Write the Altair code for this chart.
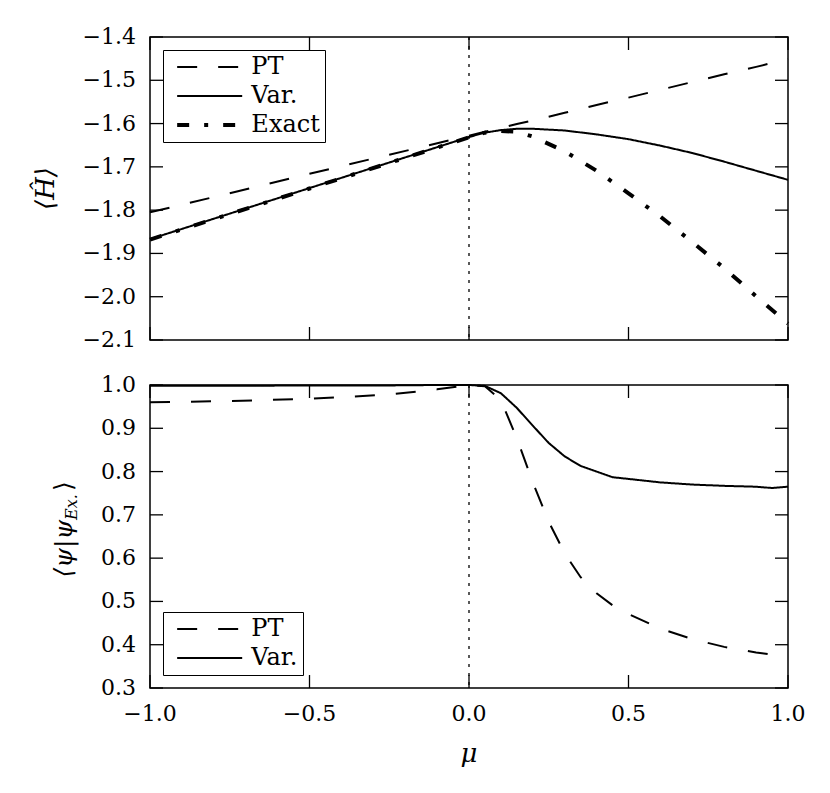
import altair as alt
import pandas as pd

# ---------------- data ----------------
x_top = [-1.0, -0.75, -0.5, -0.25, 0.0, 0.05, 0.1, 0.15, 0.2, 0.3, 0.4, 0.5, 0.6, 0.7, 0.8, 0.9, 1.0]
pt_top = [-1.805, -1.761, -1.716, -1.672, -1.628, -1.619, -1.610, -1.601, -1.593, -1.575, -1.557,
          -1.540, -1.522, -1.504, -1.486, -1.469, -1.451]
var_top = [-1.867, -1.808, -1.749, -1.690, -1.631, -1.621, -1.615, -1.612, -1.612, -1.616, -1.625,
           -1.636, -1.651, -1.668, -1.688, -1.709, -1.730]
exact_top = [-1.868, -1.809, -1.750, -1.691, -1.632, -1.621, -1.617, -1.619, -1.630, -1.664, -1.709,
             -1.761, -1.815, -1.874, -1.934, -1.999, -2.062]

x_bot = [-1.0, -0.75, -0.5, -0.25, -0.1, 0.0, 0.05, 0.1, 0.15, 0.2, 0.25, 0.3, 0.35, 0.4, 0.45,
         0.5, 0.6, 0.7, 0.8, 0.9, 0.95, 1.0]
pt_bot = [0.960, 0.963, 0.968, 0.978, 0.990, 1.000, 0.997, 0.965, 0.877, 0.775, 0.684, 0.611,
          0.556, 0.519, 0.491, 0.471, 0.437, 0.413, 0.395, 0.382, 0.377, 0.372]
var_bot = [0.998, 0.998, 0.999, 0.999, 1.000, 1.000, 0.998, 0.981, 0.947, 0.906, 0.866, 0.835,
           0.813, 0.800, 0.787, 0.783, 0.775, 0.770, 0.767, 0.765, 0.762, 0.765]

series_top = ["PT", "Var.", "Exact"]
series_bot = ["PT", "Var."]

x_ticks = [-1.0, -0.5, 0.0, 0.5, 1.0]
x_labels = ["−1.0", "−0.5", "0.0", "0.5", "1.0"]
y_ticks_top = [-2.1, -2.0, -1.9, -1.8, -1.7, -1.6, -1.5, -1.4]
y_labels_top = ["−2.1", "−2.0", "−1.9", "−1.8", "−1.7", "−1.6", "−1.5", "−1.4"]
y_ticks_bot = [0.3, 0.4, 0.5, 0.6, 0.7, 0.8, 0.9, 1.0]
y_labels_bot = ["0.3", "0.4", "0.5", "0.6", "0.7", "0.8", "0.9", "1.0"]
marker_x = [0.0]

x_title = ["μ"]
y_title_top = ["⟨Ĥ⟩"]
y_title_bot_parts = ["⟨ψ|ψ", "Ex.", "⟩"]

# ---------------- styling ----------------
W, H = 638, 303
TL = 13
FONT = "DejaVu Serif"
FS = 22
DASHES = {"PT": [20, 21], "Var.": [1, 0], "Exact": [12, 15, 4, 15]}
WIDTHS = {"PT": 2, "Var.": 2, "Exact": 4}
SYM = 470  # legend symbol size; custom path spans 3*sqrt(SYM)
XDOM = [-1.0, 1.0]


def long_df(xs, cols):
    rows = []
    for name, vals in cols:
        for xv, yv in zip(xs, vals):
            rows.append({"x": xv, "y": yv, "series": name, "w": WIDTHS[name]})
    return pd.DataFrame(rows)


df_top = long_df(x_top, [("PT", pt_top), ("Var.", var_top), ("Exact", exact_top)])
df_bot = long_df(x_bot, [("PT", pt_bot), ("Var.", var_bot)])


def text_layer(txt, **kw):
    enc = kw.pop("enc")
    return alt.Chart(pd.DataFrame({"t": txt})).mark_text(
        font=FONT, color="black", **kw).encode(text="t:N", **enc)


def panel(df, order, ydomain, yticks, ylabels, legend_orient, bottom):
    xs = alt.Scale(domain=XDOM, nice=False, zero=False)
    ys = alt.Scale(domain=ydomain, nice=False, zero=False)
    # tick length (TL px) expressed in data units of each scale
    dx = (XDOM[1] - XDOM[0]) * TL / W
    dy = (ydomain[1] - ydomain[0]) * TL / H
    leg = alt.Legend(orient=legend_orient, title=None,
                     symbolStrokeWidth=alt.ExprRef("datum.value == 'Exact' ? 4 : 2"))
    lines = alt.Chart(df).mark_line(strokeCap="butt").encode(
        x=alt.X("x:Q", scale=xs, axis=None),
        y=alt.Y("y:Q", scale=ys, axis=None),
        strokeDash=alt.StrokeDash("series:N", sort=order,
                                  scale=alt.Scale(domain=order, range=[DASHES[s] for s in order]),
                                  legend=leg),
        strokeWidth=alt.StrokeWidth("w:Q", scale=None),
        color=alt.value("black"),
    )
    vline = alt.Chart(pd.DataFrame({"v": marker_x})).mark_rule(
        color="black", strokeWidth=1.3, strokeDash=[3, 6]).encode(
        x=alt.X("v:Q", scale=xs, axis=None))
    tick_style = dict(color="black", strokeWidth=1.3)
    lt_df = pd.DataFrame({"yt": yticks, "a": XDOM[0], "b": XDOM[0] + dx})
    rt_df = pd.DataFrame({"yt": yticks, "a": XDOM[1] - dx, "b": XDOM[1]})
    tt_df = pd.DataFrame({"xt": x_ticks, "a": ydomain[1] - dy, "b": ydomain[1]})
    bt_df = pd.DataFrame({"xt": x_ticks, "a": ydomain[0], "b": ydomain[0] + dy})
    lt = alt.Chart(lt_df).mark_rule(**tick_style).encode(
        y=alt.Y("yt:Q", scale=ys, axis=None),
        x=alt.X("a:Q", scale=xs, axis=None), x2="b:Q")
    rt = alt.Chart(rt_df).mark_rule(**tick_style).encode(
        y=alt.Y("yt:Q", scale=ys, axis=None),
        x=alt.X("a:Q", scale=xs, axis=None), x2="b:Q")
    tt = alt.Chart(tt_df).mark_rule(**tick_style).encode(
        x=alt.X("xt:Q", scale=xs, axis=None),
        y=alt.Y("a:Q", scale=ys, axis=None), y2="b:Q")
    bt = alt.Chart(bt_df).mark_rule(**tick_style).encode(
        x=alt.X("xt:Q", scale=xs, axis=None),
        y=alt.Y("a:Q", scale=ys, axis=None), y2="b:Q")
    ylab_df = pd.DataFrame({"yl": yticks, "t": ylabels})
    ylab = alt.Chart(ylab_df).mark_text(font=FONT, fontSize=FS, color="black",
                                        align="right", baseline="middle").encode(
        y=alt.Y("yl:Q", scale=ys, axis=None), x=alt.value(-14), text="t:N")
    layers = [lines, vline, lt, rt, tt, bt, ylab]
    if bottom:
        xlab_df = pd.DataFrame({"xl": x_ticks, "t": x_labels})
        xlab = alt.Chart(xlab_df).mark_text(font=FONT, fontSize=FS, color="black",
                                            align="center", baseline="top").encode(
            x=alt.X("xl:Q", scale=xs, axis=None), y=alt.value(H + 16), text="t:N")
        xt = text_layer(x_title, fontSize=26, fontStyle="italic", align="center",
                        baseline="alphabetic",
                        enc=dict(x=alt.value(W / 2), y=alt.value(H + 74)))
        anchor_y = 135
        p1 = text_layer([y_title_bot_parts[0]], angle=270, align="right", baseline="middle",
                        fontSize=25, fontStyle="italic",
                        enc=dict(x=alt.value(-86), y=alt.value(anchor_y)))
        p2 = text_layer([y_title_bot_parts[1]], angle=270, align="left", baseline="middle",
                        fontSize=16, fontStyle="italic", dy=8,
                        enc=dict(x=alt.value(-86), y=alt.value(anchor_y)))
        p3 = text_layer([y_title_bot_parts[2]], angle=270, align="left", baseline="middle",
                        fontSize=25, dx=29,
                        enc=dict(x=alt.value(-86), y=alt.value(anchor_y)))
        layers += [xlab, xt, p1, p2, p3]
    else:
        yt = text_layer(y_title_top, angle=270, align="center", baseline="middle",
                        fontSize=26, fontStyle="italic",
                        enc=dict(x=alt.value(-104), y=alt.value(H / 2)))
        layers += [yt]
    return alt.layer(*layers).properties(width=W, height=H)


top = panel(df_top, series_top, [-2.1, -1.4], y_ticks_top, y_labels_top, "top-left", False)
bot = panel(df_bot, series_bot, [0.3, 1.0], y_ticks_bot, y_labels_bot, "bottom-left", True)

r = SYM ** 0.5
chart = alt.vconcat(top, bot, spacing=45, bounds="flush").resolve_scale(
    strokeDash="independent"
).resolve_legend(
    strokeDash="independent"
).properties(
    padding={"left": 24, "top": 17, "right": 10, "bottom": 5}
).configure_view(
    stroke="black", strokeWidth=1.5
).configure_legend(
    labelFont=FONT, labelFontSize=24, labelColor="black", labelLimit=300,
    strokeColor="black", fillColor="white", cornerRadius=0,
    padding=5, offset=13, rowPadding=5, symbolType="M-3,0H3", symbolSize=SYM,
    symbolStrokeColor="black", symbolOffset=8 + r, labelOffset=8 + r
)

chart.save("out.html", embed_options={"renderer": "svg", "actions": False})
